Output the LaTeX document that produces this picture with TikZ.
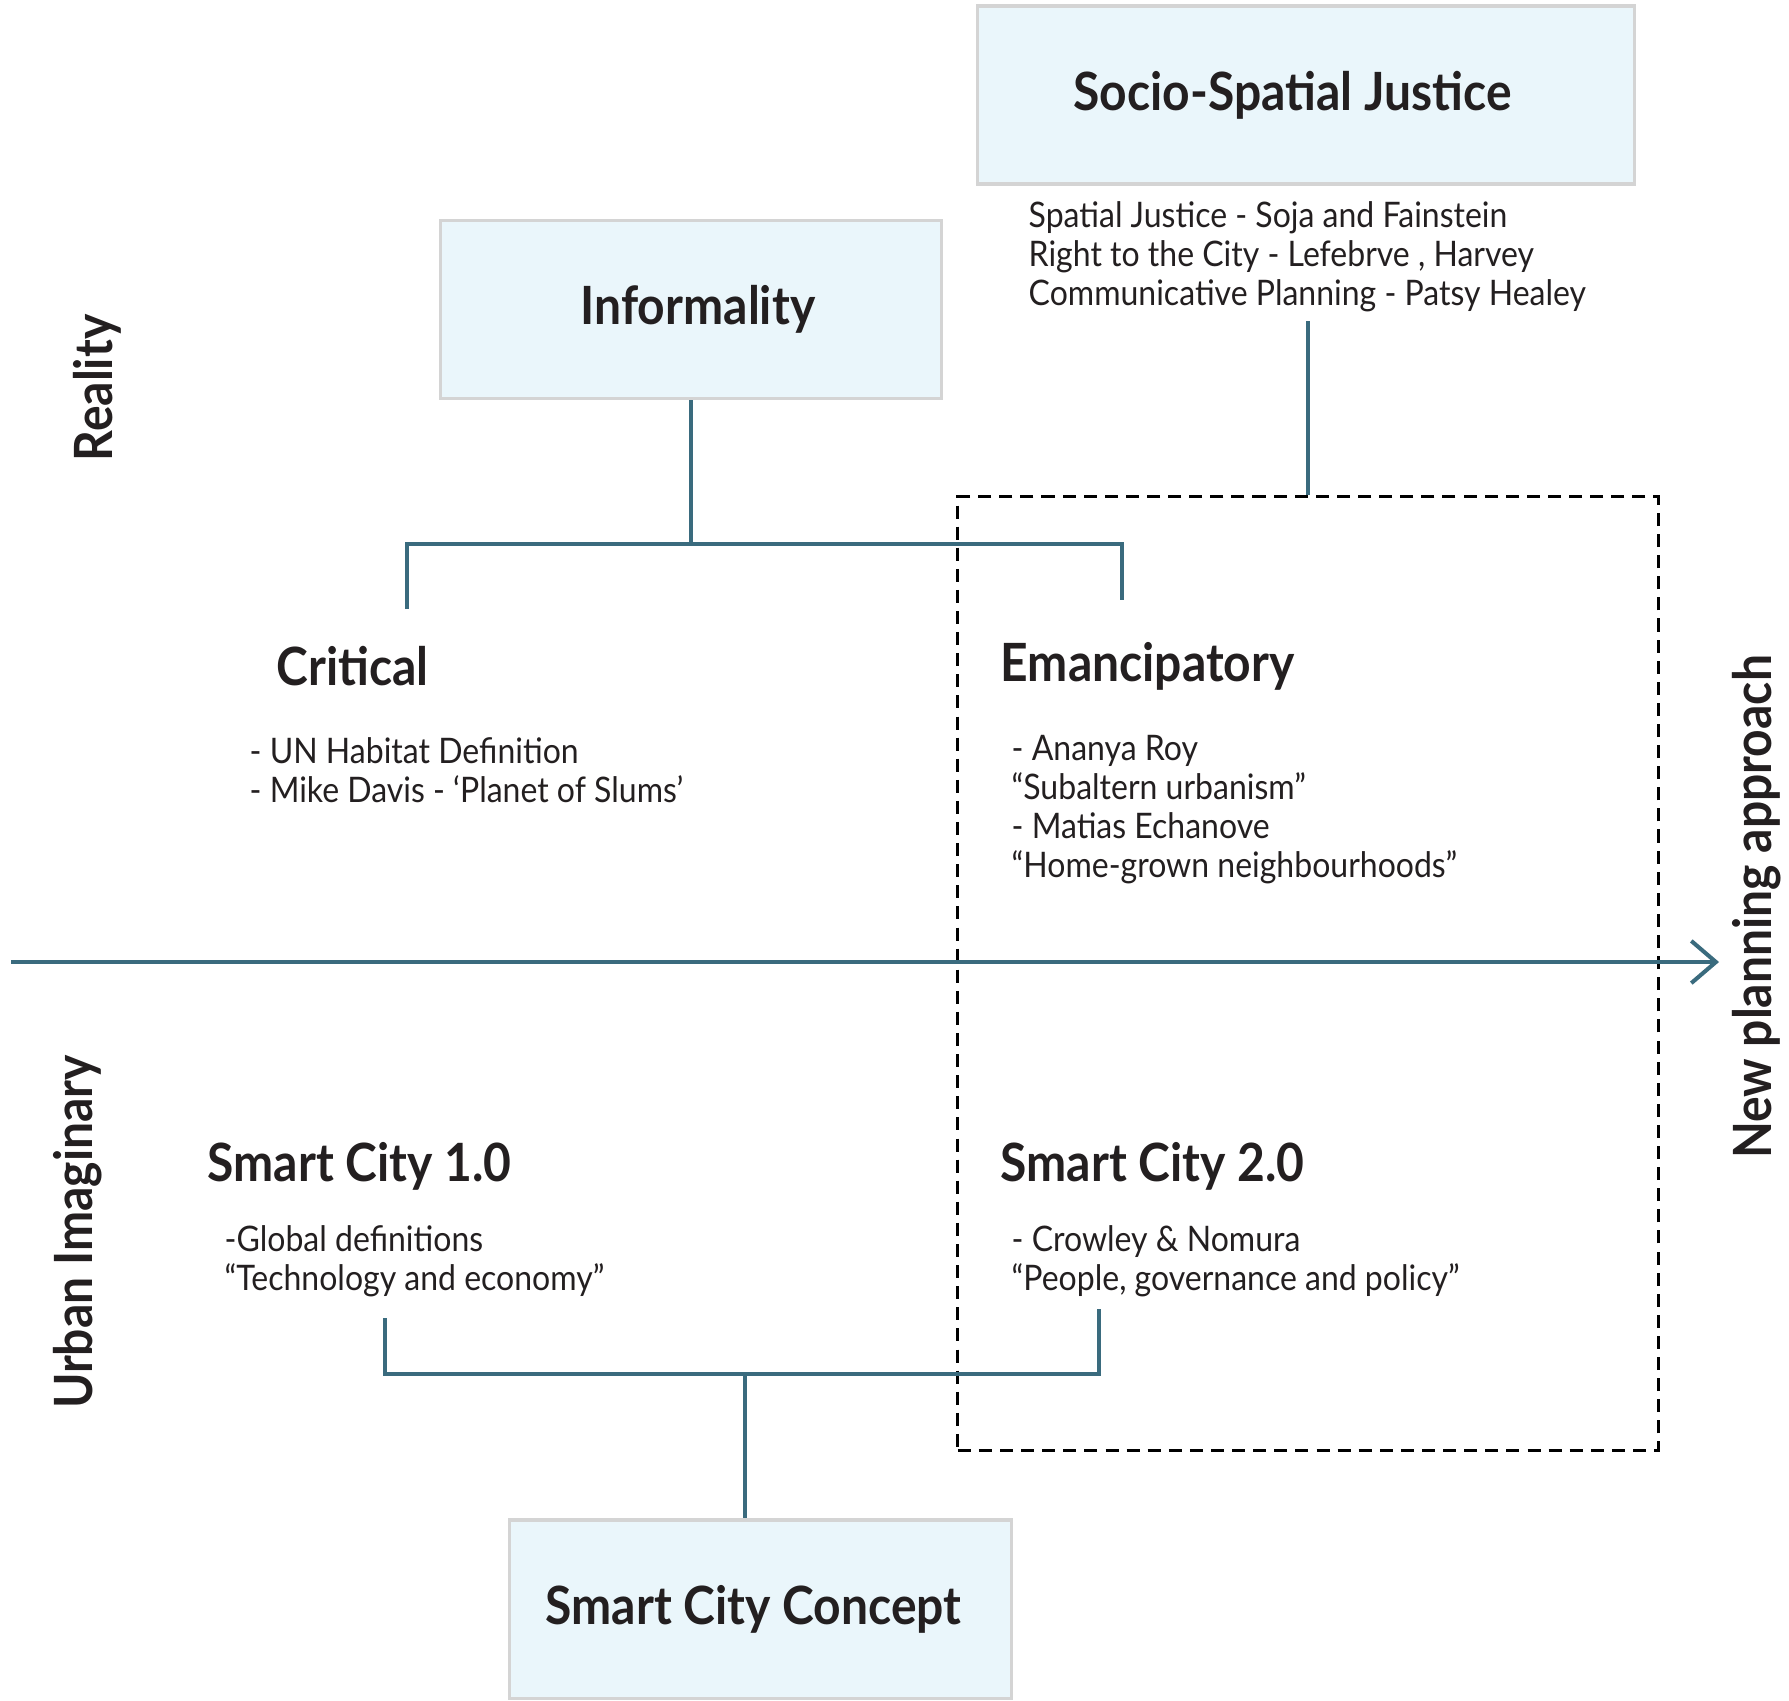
\documentclass[tikz,border=0pt]{standalone}
\usepackage{fontspec}
\setmainfont{Lato}[FakeStretch=0.91]
\usetikzlibrary{arrows.meta,positioning}

\definecolor{lineteal}{HTML}{3A6B7E}
\definecolor{boxfill}{HTML}{EAF6FB}
\definecolor{boxedge}{HTML}{D4D4D4}
\definecolor{inkdark}{HTML}{231F20}

\tikzset{
    conceptbox/.style={draw=boxedge, line width=0.9pt, fill=boxfill, inner sep=0pt,
        minimum height=1.78cm, text=inkdark, font=\bfseries\fontsize{15}{18}\selectfont},
    heading/.style={anchor=west, inner sep=0pt, text=inkdark, font=\bfseries\fontsize{15}{18}\selectfont},
    refs/.style={anchor=west, inner sep=0pt, align=left, text=inkdark, font=\fontsize{10}{11.1}\selectfont},
    sidelabel/.style={rotate=90, inner sep=0pt, text=inkdark, font=\bfseries\fontsize{15}{18}\selectfont},
    link/.style={draw=lineteal, line width=1.15pt},
    planframe/.style={draw=black, line width=0.85pt, dash pattern=on 3.7pt off 2.3pt,
        minimum width=7.00cm, minimum height=9.53cm, inner sep=0pt}
}

\begin{document}
\begin{tikzpicture}[x=0.01cm, y=-0.01cm]
    \useasboundingbox (0,0) rectangle (1789,1700);
    % Dashed frame around the new approach
    \node[planframe] (newplan) at (1308,973.5) {};
    % Main concept boxes
    \node[conceptbox, minimum width=6.56cm] (justice) at (1306,95) {\hspace*{-0.27cm}Socio-Spatial Justice};
    \node[conceptbox, minimum width=5.01cm] (informality) at (691,309.5) {\hspace*{0.14cm}Informality};
    \node[conceptbox, minimum width=5.01cm] (concept) at (760.5,1609) {Smart City Concept\hspace*{0.14cm}};
    % Reference lists
    \node[refs] (justice refs) at (1028,257) {Spatial Justice - Soja and Fainstein\\Right to the City - Lefebrve , Harvey\\Communicative Planning - Patsy Healey};
    \node[heading] (critical) at (276,666) {Critical};
    \node[refs] (critical refs) at (249,770) {- UN Habitat Definition\\- Mike Davis - `Planet of Slums'};
    \node[heading] (emancipatory) at (1000,666) {Emancipatory};
    \node[refs] (emancipatory refs) at (1011,810) {- Ananya Roy\\``Subaltern urbanism''\\- Matias Echanove\\``Home-grown neighbourhoods''};
    \node[heading] (smart one) at (207,1166) {Smart City 1.0};
    \node[refs] (smart one refs) at (224,1261) {-Global definitions\\``Technology and economy''};
    \node[heading] (smart two) at (1000,1166) {Smart City 2.0};
    \node[refs] (smart two refs) at (1011,1261) {- Crowley \& Nomura\\``People, governance and policy''};
    % Side labels
    \node[sidelabel] (reality) at (97,388) {Reality};
    \node[sidelabel] (imaginary) at (78,1232) {Urban Imaginary};
    \node[sidelabel] (approach) at (1757,907) {New planning approach};
    % Connectors
    \coordinate (justice end) at (1308,321);
    \coordinate (inf fork) at (691,544);
    \coordinate (critical top) at (407,609);
    \coordinate (emancipatory top) at (1122,600);
    \coordinate (smart fork) at (745,1374);
    \coordinate (smart one end) at (385,1318);
    \coordinate (smart two end) at (1099,1309);
    \coordinate (axis start) at (11,962);
    \coordinate (axis end) at (1719,962);
    \draw[link] (justice end) -- (justice end |- newplan.north);
    \draw[link] (informality) -- (inf fork);
    \draw[link] (critical top) |- (inf fork) -| (emancipatory top);
    \draw[link] (smart one end) |- (smart fork) -| (smart two end);
    \draw[link] (smart fork) -- (smart fork |- concept.north);
    \draw[link, -{Straight Barb[length=7pt, width=12pt, line width=1.15pt]}] (axis start) -- (axis end);
\end{tikzpicture}
\end{document}
